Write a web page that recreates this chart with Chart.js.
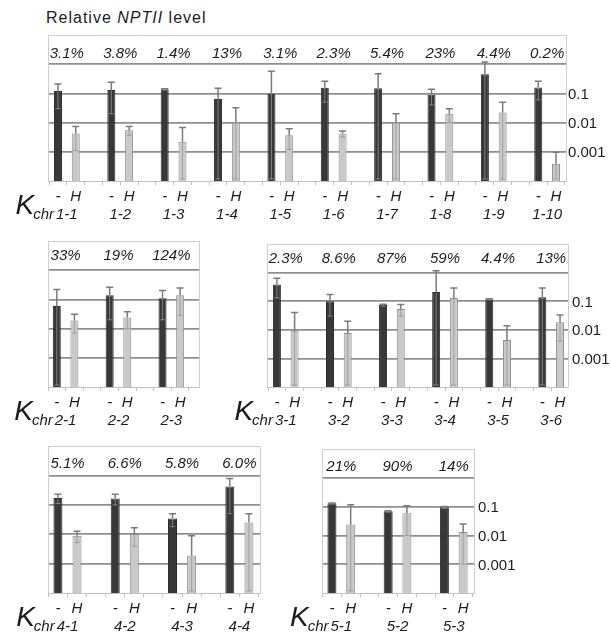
<!DOCTYPE html>
<html>
<head>
<meta charset="utf-8">
<script src="https://cdn.jsdelivr.net/npm/chart.js@4.4.1/dist/chart.umd.min.js"></script>
<style>
  html, body { margin: 0; padding: 0; background: #fff; }
  #fig { position: relative; width: 611px; height: 644px; overflow: hidden;
         font-family: "Liberation Sans", Arial, sans-serif; color: #1c1c1c; }
  #fig canvas { position: absolute; }
  #title { position: absolute; left: 46px; top: 9px; font-size: 16px; line-height: 18px;
           letter-spacing: 1px; white-space: nowrap; }
</style>
</head>
<body>
<div id="fig">
  <div id="title">Relative <i>NPTII</i> level</div>
  <canvas id="p1" width="611" height="210" style="left:0;top:24px"></canvas>
  <canvas id="p2" width="215" height="208" style="left:0;top:231px"></canvas>
  <canvas id="p3" width="396" height="208" style="left:215px;top:231px"></canvas>
  <canvas id="p4" width="265" height="208" style="left:0;top:436px"></canvas>
  <canvas id="p5" width="346" height="208" style="left:265px;top:436px"></canvas>
</div>
<script>
// ---------- Data (log scale) ----------
// "-" = untreated, "H" = hygromycin; *Err = upper error bar length
const yTickValues = [0.0001, 0.001, 0.01, 0.1, 1, 10];
const yTickLabels = ["", "0.001", "0.01", "0.1", "", ""];

const p1Lines = ["1-1", "1-2", "1-3", "1-4", "1-5", "1-6", "1-7", "1-8", "1-9", "1-10"];
const p1Pct = ["3.1%", "3.8%", "1.4%", "13%", "3.1%", "2.3%", "5.4%", "23%", "4.4%", "0.2%"];
const p1Minus = [0.12, 0.13, 0.14, 0.064, 0.098, 0.155, 0.15, 0.09, 0.45, 0.16];
const p1MinusErr = [0.09, 0.11, 0.005, 0.086, 0.47, 0.105, 0.32, 0.05, 0.75, 0.1];
const p1H = [0.0042, 0.0055, 0.0022, 0.01, 0.0037, 0.0042, 0.01, 0.02, 0.022, 0.00039];
const p1HErr = [0.0031, 0.0018, 0.0046, 0.022, 0.0025, 0.001, 0.01, 0.01, 0.028, 0.00057];

const p2Lines = ["2-1", "2-2", "2-3"];
const p2Pct = ["33%", "19%", "124%"];
const p2Minus = [0.059, 0.14, 0.11];
const p2MinusErr = [0.16, 0.12, 0.09];
const p2H = [0.019, 0.024, 0.138];
const p2HErr = [0.012, 0.014, 0.11];

const p3Lines = ["3-1", "3-2", "3-3", "3-4", "3-5", "3-6"];
const p3Pct = ["2.3%", "8.6%", "87%", "59%", "4.4%", "13%"];
const p3Minus = [0.38, 0.1, 0.073, 0.21, 0.117, 0.137];
const p3MinusErr = [0.25, 0.07, 0.005, 0.94, 0.004, 0.15];
const p3H = [0.0093, 0.0078, 0.053, 0.13, 0.0044, 0.0185];
const p3HErr = [0.031, 0.012, 0.023, 0.16, 0.0095, 0.0145];

const p4Lines = ["4-1", "4-2", "4-3", "4-4"];
const p4Pct = ["5.1%", "6.6%", "5.8%", "6.0%"];
const p4Minus = [0.17, 0.165, 0.034, 0.42];
const p4MinusErr = [0.06, 0.065, 0.016, 0.37];
const p4H = [0.0089, 0.0102, 0.0019, 0.025];
const p4HErr = [0.0037, 0.0063, 0.007, 0.025];

const p5Lines = ["5-1", "5-2", "5-3"];
const p5Pct = ["21%", "90%", "14%"];
const p5Minus = [0.13, 0.069, 0.095];
const p5MinusErr = [0.004, 0.003, 0.005];
const p5H = [0.024, 0.059, 0.013];
const p5HErr = [0.093, 0.049, 0.012];

(function () {
  const FONT = "'Liberation Sans', Arial, sans-serif";
  const color = {
    dark: "#383838",
    darkEdge: "#2a2a2a",
    light: "#c9c9c9",
    lightEdge: "#8e8e8e",
    grid: "#8f8f8f",
    frame: "#cfcfcf",
    axis: "#c2c2c2",
    err: "#7b7b7b",
    text: "#1c1c1c",
  };

  Chart.defaults.font.family = FONT;
  Chart.defaults.color = color.text;

  // ---------- Error bars ----------
  const errorBars = {
    id: "errorBars",
    afterDatasetsDraw(chart) {
      const ctx = chart.ctx;
      const y = chart.scales.y;
      const floor = chart.chartArea.bottom - 2;
      chart.data.datasets.forEach((ds, di) => {
        const meta = chart.getDatasetMeta(di);
        meta.data.forEach((bar, i) => {
          const v = ds.data[i].y;
          const e = ds.errors[i];
          const hi = y.getPixelForValue(v + e);
          const lo = v - e > y.min ? y.getPixelForValue(v - e) : floor;
          ctx.save();
          // faint lower whisker inside the bar
          ctx.strokeStyle = di === 0 ? "rgba(200,200,200,0.5)" : "rgba(110,110,110,0.45)";
          ctx.lineWidth = 1;
          ctx.beginPath();
          ctx.moveTo(bar.x, bar.y);
          ctx.lineTo(bar.x, lo);
          ctx.moveTo(bar.x - 2.5, lo);
          ctx.lineTo(bar.x + 2.5, lo);
          ctx.stroke();
          // upper whisker with cap
          ctx.strokeStyle = color.err;
          ctx.lineWidth = 1.5;
          ctx.beginPath();
          ctx.moveTo(bar.x, bar.y);
          ctx.lineTo(bar.x, hi);
          ctx.moveTo(bar.x - 3.5, hi);
          ctx.lineTo(bar.x + 3.5, hi);
          ctx.stroke();
          ctx.restore();
        });
      });
    },
  };

  // ---------- Percent row, "- H" row, line names, K chr ----------
  function panelText(d, g) {
    return {
      id: "panelText",
      afterDraw(chart) {
        const ctx = chart.ctx;
        const x = chart.scales.x;
        const y = chart.scales.y;
        const area = chart.chartArea;
        ctx.save();
        ctx.strokeStyle = color.frame;
        ctx.lineWidth = 1;
        ctx.beginPath();
        ctx.moveTo(area.left + 0.5, area.top);
        ctx.lineTo(area.left + 0.5, area.bottom);
        ctx.stroke();

        ctx.fillStyle = color.text;
        ctx.font = "italic 15px " + FONT;
        ctx.textAlign = "center";
        ctx.textBaseline = "alphabetic";
        const pctY = y.getPixelForValue(1) - g.pctGap;
        d.lines.forEach((name, i) => {
          const xm = x.getPixelForValue(3 * i);
          const xh = x.getPixelForValue(3 * i + 1);
          const xc = (xm + xh) / 2;
          ctx.fillText(d.pct[i], xc, pctY);
          ctx.fillText("-", xm, area.bottom + 20);
          ctx.fillText("H", xh, area.bottom + 20);
          ctx.fillText(name, xc, area.bottom + 38);
        });

        const first = (x.getPixelForValue(0) + x.getPixelForValue(1)) / 2;
        const x0 = first - ctx.measureText(d.lines[0]).width / 2 - 2;
        ctx.textAlign = "right";
        ctx.fillText("chr", x0, area.bottom + 38);
        const cw = ctx.measureText("chr").width;
        ctx.font = "italic 28px " + FONT;
        ctx.fillText("K", x0 - cw + 1, area.bottom + 33);
        ctx.restore();
      },
    };
  }

  function makePanel(id, d, g) {
    const barStyle = {
      grouped: false,
      barPercentage: 0.5,
      categoryPercentage: 1,
      maxBarThickness: g.bar,
      borderWidth: 1,
    };
    new Chart(document.getElementById(id), {
      type: "bar",
      data: {
        datasets: [
          Object.assign({
            label: "-",
            data: d.minus.map((v, i) => ({ x: 3 * i, y: v })),
            errors: d.minusErr,
            backgroundColor: color.dark,
            borderColor: color.darkEdge,
          }, barStyle),
          Object.assign({
            label: "H",
            data: d.h.map((v, i) => ({ x: 3 * i + 1, y: v })),
            errors: d.hErr,
            backgroundColor: color.light,
            borderColor: color.lightEdge,
          }, barStyle),
        ],
      },
      options: {
        responsive: false,
        animation: false,
        layout: { padding: { left: g.padLeft, top: 10, right: g.padRight, bottom: 0 } },
        plugins: { legend: { display: false }, tooltip: { enabled: false } },
        scales: {
          x: {
            type: "linear",
            min: g.xmin,
            max: g.xmax,
            offset: false,
            grid: { offset: false, drawOnChartArea: false, drawTicks: true, tickLength: 4, color: color.axis },
            border: { color: color.axis },
            ticks: { display: false, autoSkip: false },
            afterBuildTicks: (s) => {
              const t = [];
              for (let k = 0; k < d.lines.length * 3; k++) {
                const v = k - 0.5;
                if (v >= s.min && v <= s.max) t.push({ value: v });
              }
              s.ticks = t;
            },
            afterFit: (s) => { s.height = g.xH; },
          },
          y: {
            type: "logarithmic",
            position: "right",
            min: 0.0001,
            max: 10,
            grid: {
              drawTicks: false,
              color: (c) => (c.tick.value >= 10 ? color.frame : c.tick.value <= 0.0001 ? "rgba(0,0,0,0)" : color.grid),
              lineWidth: (c) => (c.tick.value >= 10 ? 1 : 1.7),
            },
            border: { color: color.frame },
            ticks: {
              display: g.showY,
              padding: g.yPad,
              labelOffset: 1.5,
              color: color.text,
              font: { size: 15 },
              callback: (v) => yTickLabels[yTickValues.indexOf(v)] || "",
            },
            afterBuildTicks: (s) => { s.ticks = yTickValues.map((v) => ({ value: v })); },
            afterFit: (s) => { s.width = g.yW; },
          },
        },
      },
      plugins: [errorBars, panelText(d, g)],
    });
  }

  makePanel("p1",
    { lines: p1Lines, pct: p1Pct, minus: p1Minus, minusErr: p1MinusErr, h: p1H, hErr: p1HErr },
    { padLeft: 48, padRight: 0, yW: 45, yPad: 2, xH: 53, xmin: -0.56, xmax: 28.56, showY: true, bar: 8, pctGap: 6 });
  makePanel("p2",
    { lines: p2Lines, pct: p2Pct, minus: p2Minus, minusErr: p2MinusErr, h: p2H, hErr: p2HErr },
    { padLeft: 48, padRight: 16, yW: 0, yPad: 0, xH: 52, xmin: -0.5, xmax: 8.07, showY: false, bar: 8, pctGap: 10 });
  makePanel("p3",
    { lines: p3Lines, pct: p3Pct, minus: p3Minus, minusErr: p3MinusErr, h: p3H, hErr: p3HErr },
    { padLeft: 52, padRight: 0, yW: 43, yPad: 4, xH: 52, xmin: -0.56, xmax: 16.45, showY: true, bar: 8, pctGap: 10 });
  makePanel("p4",
    { lines: p4Lines, pct: p4Pct, minus: p4Minus, minusErr: p4MinusErr, h: p4H, hErr: p4HErr },
    { padLeft: 48, padRight: 5, yW: 0, yPad: 0, xH: 51, xmin: -0.52, xmax: 10.58, showY: false, bar: 9, pctGap: 7 });
  makePanel("p5",
    { lines: p5Lines, pct: p5Pct, minus: p5Minus, minusErr: p5MinusErr, h: p5H, hErr: p5HErr },
    { padLeft: 57, padRight: 92, yW: 45, yPad: 4, xH: 51, xmin: -0.53, xmax: 7.58, showY: true, bar: 9, pctGap: 7 });
})();
</script>
</body>
</html>
